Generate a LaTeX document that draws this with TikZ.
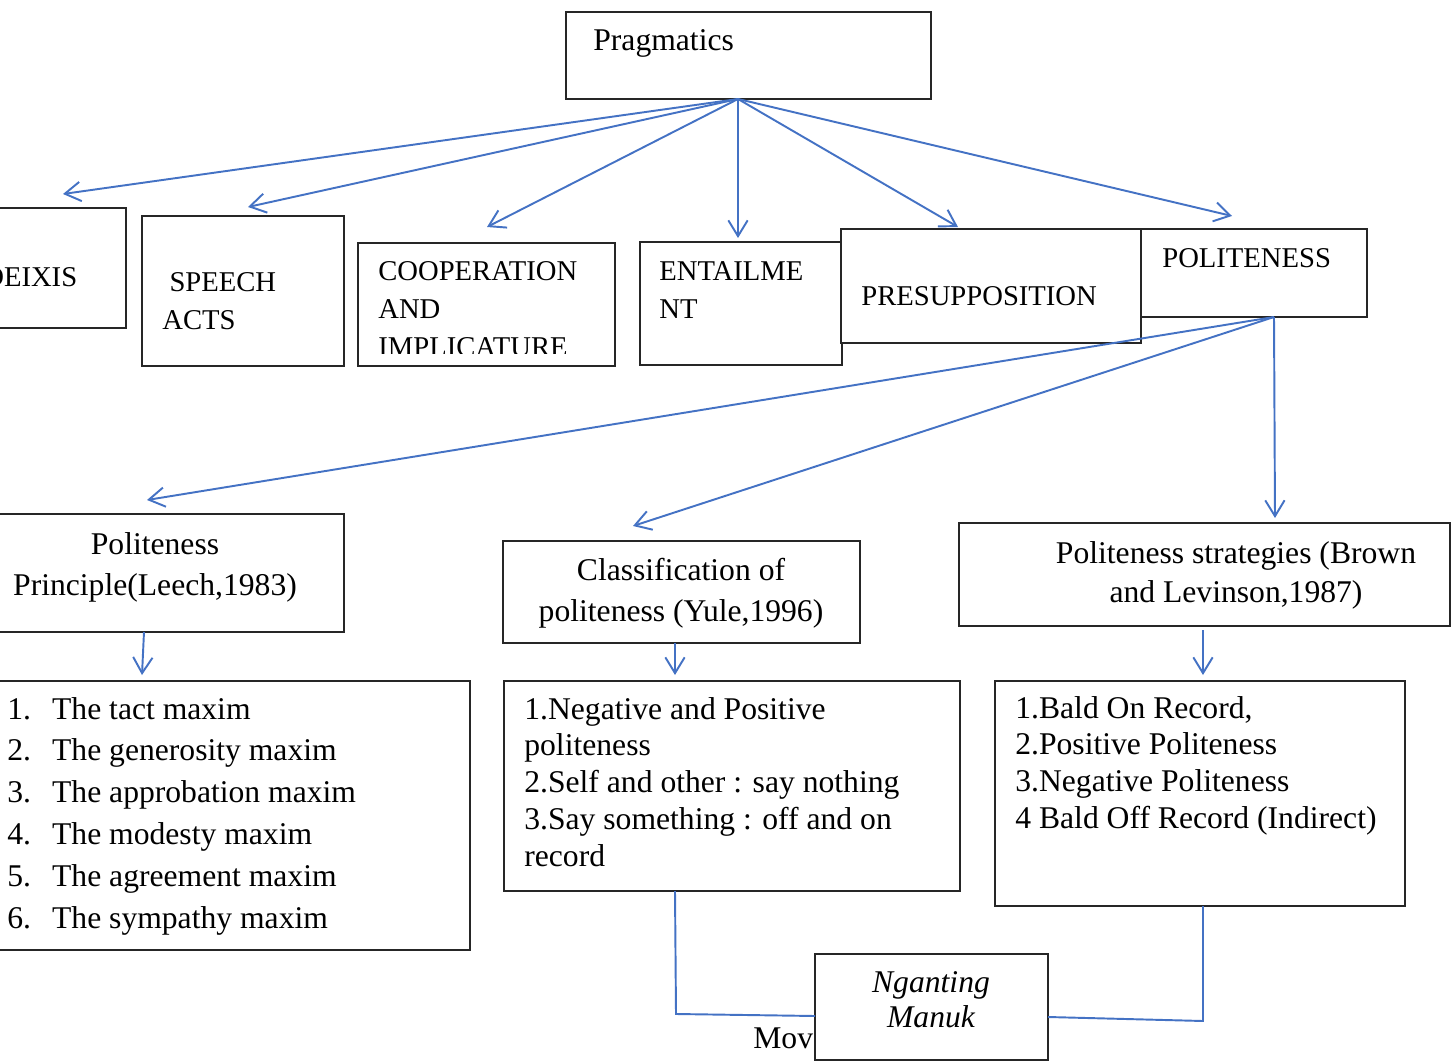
\documentclass[tikz,border=0pt]{standalone}
\usepackage{fontspec}
\setmainfont{Liberation Serif}
\usepackage{tikz}
\usetikzlibrary{arrows.meta,fit}
\definecolor{wordblue}{RGB}{68,114,196}

\newcommand{\capsfont}{\fontsize{16.3}{21.9}\selectfont}
\newcommand{\bodyfont}{\fontsize{18}{23.9}\selectfont}
\newcommand{\listfont}{\fontsize{18}{21}\selectfont}
\newcommand{\rowsl}[1]{\begin{tabular}[t]{@{}l@{}}#1\end{tabular}}
\newcommand{\rowsc}[1]{\begin{tabular}[t]{@{}c@{}}#1\end{tabular}}

\tikzset{
  box/.style={draw=black!85, line width=0.8pt, fill=white, inner sep=0pt},
  txt/.style={anchor=base west, inner sep=0pt},
  ctxt/.style={anchor=base, inner sep=0pt},
  arr/.style={draw=wordblue, line width=1.1pt, -{Straight Barb[length=9pt,width=11pt]}},
  link/.style={draw=wordblue, line width=1.1pt},
}

\begin{document}
\begin{tikzpicture}[x=0.02cm, y=-0.02cm]
    \useasboundingbox (0,0) rectangle (1451,1061);
    \clip (0,0) rectangle (1451,1061);

    % text half hidden by the last box
    \node[txt, font=\bodyfont] (move) at (753,1048) {Move};

    % top row
    \node[box, fit={(566,12) (931,99)}] (prag) {};
    \node[box, fit={(-40,208) (126,328)}] (deixis) {};
    \node[box, fit={(142,216) (344,366)}] (speech) {};
    \node[box, fit={(358,243) (615,366)}] (coop) {};
    \node[box, fit={(640,242) (842,365)}] (entail) {};
    \node[box, fit={(841,229) (1141,343)}] (presup) {};
    \node[box, fit={(1141,229) (1367,317)}] (polite) {};

    % second row
    \node[box, fit={(-40,514) (344,632)}] (leech) {};
    \node[box, fit={(503,541) (860,643)}] (yule) {};
    \node[box, fit={(959,523) (1450,626)}] (brown) {};

    % lists
    \node[box, fit={(-40,681) (470,950)}] (maxims) {};
    \node[box, fit={(504,681) (960,891)}] (kinds) {};
    \node[box, fit={(995,681) (1405,906)}] (strat) {};
    \node[box, fit={(815,954) (1048,1060)}] (manuk) {};

    % texts
    \node[txt, font=\bodyfont] (pragT) at (593,51) {Pragmatics};
    \node[txt, font=\capsfont] (deixisT) at (-17,286) {DEIXIS};
    \node[txt, font=\capsfont] (speechT) at (162,291) {\rowsl{\ SPEECH\\ACTS}};
    \begin{scope}
        \clip (358,243) rectangle (615,353);
        \node[txt, font=\capsfont] (coopT) at (378,280) {\rowsl{COOPERATION\\AND\\IMPLICATURE}};
    \end{scope}
    \node[txt, font=\capsfont] (entailT) at (659,280) {\rowsl{ENTAILME\\NT}};
    \node[txt, font=\capsfont] (presupT) at (861,305) {PRESUPPOSITION};
    \node[txt, font=\capsfont] (politeT) at (1162,267) {POLITENESS};

    \node[ctxt, font=\bodyfont] (leechT) at (155,554) {\rowsc{Politeness\\Principle(Leech,1983)}};
    \node[ctxt, font=\bodyfont] (yuleT) at (681,580) {\rowsc{Classification of\\politeness (Yule,1996)}};
    \node[ctxt, font=\fontsize{18}{22.7}\selectfont] (brownT) at (1236,563) {\rowsc{Politeness strategies (Brown\\and Levinson,1987)}};

    \node[txt, font=\bodyfont] (maximsT) at (7,719) {\begin{tabular}[t]{@{}p{25.5pt}@{}l@{}}
        1.&The tact maxim\\
        2.&The generosity maxim\\
        3.&The approbation maxim\\
        4.&The modesty maxim\\
        5.&The agreement maxim\\
        6.&The sympathy maxim
    \end{tabular}};
    \node[txt, font=\listfont] (kindsT) at (524,719) {\rowsl{1.Negative and Positive\\politeness\\2.Self and other : say nothing\\3.Say something : off and on\\record}};
    \node[txt, font=\listfont] (stratT) at (1015,718) {\rowsl{1.Bald On Record,\\2.Positive Politeness\\3.Negative Politeness\\4 Bald Off Record (Indirect)}};
    \node[ctxt, font=\fontsize{18}{20.4}\selectfont\itshape] (manukT) at (931,992) {\rowsc{Nganting\\Manuk}};

    % arrow ends
    \coordinate (pragB) at (738,99);
    \coordinate (tDeixis) at (63,194);
    \coordinate (tSpeech) at (248,207);
    \coordinate (tCoop) at (487,227);
    \coordinate (tEntail) at (738,238);
    \coordinate (tPresup) at (958,227);
    \coordinate (tPolite) at (1232,216);
    \coordinate (politeB) at (1274,317);
    \coordinate (tLeech) at (147,500);
    \coordinate (tYule) at (633,526);
    \coordinate (tBrown) at (1275,518);
    \coordinate (leechB) at (144,632);
    \coordinate (tMaxims) at (142,675);
    \coordinate (yuleB) at (675,643);
    \coordinate (tKinds) at (675,675);
    \coordinate (brownB) at (1203,630);
    \coordinate (tStrat) at (1203,675);
    \coordinate (kindsB) at (675,891);
    \coordinate (kindsC) at (676,1014);
    \coordinate (manukW) at (815,1016);
    \coordinate (stratB) at (1203,906);
    \coordinate (stratC) at (1203,1021);
    \coordinate (manukE) at (1048,1017);

    \foreach \t in {tDeixis,tSpeech,tCoop,tEntail,tPresup,tPolite}
        \draw[arr] (pragB) -- (\t);
    \foreach \t in {tLeech,tYule,tBrown}
        \draw[arr] (politeB) -- (\t);
    \draw[arr] (leechB) -- (tMaxims);
    \draw[arr] (yuleB) -- (tKinds);
    \draw[arr] (brownB) -- (tStrat);

    \draw[link] (kindsB) -- (kindsC) -- (manukW);
    \draw[link] (stratB) -- (stratC) -- (manukE);
\end{tikzpicture}
\end{document}
